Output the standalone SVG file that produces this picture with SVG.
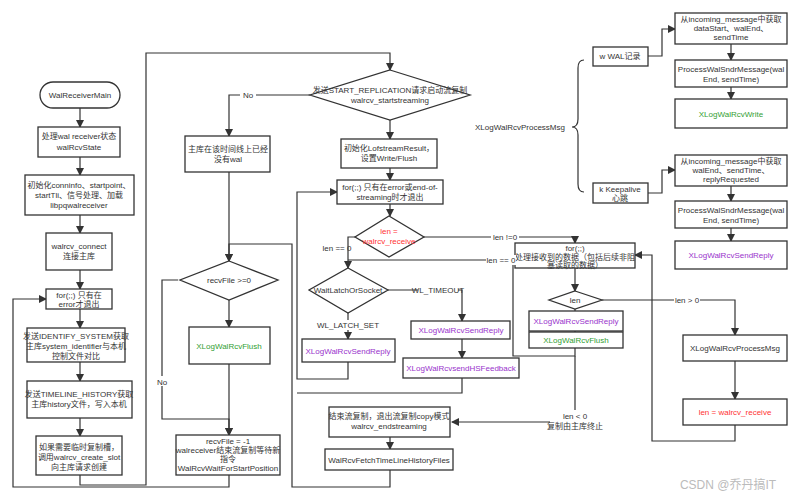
<svg xmlns="http://www.w3.org/2000/svg" width="800" height="500" viewBox="0 0 800 500">
<defs>
<marker id="a" markerWidth="8" markerHeight="8" refX="7" refY="4" orient="auto" markerUnits="userSpaceOnUse"><path d="M0,0 L8,4 L0,8 z" fill="#333"/></marker>
<style>
rect,path.s,polygon{fill:#fff;stroke:#333;stroke-width:1.3}
.c path{fill:none;stroke:#333;stroke-width:1.2}
.c path.r{marker-end:url(#a)}
text{font-family:"Liberation Sans","Noto Sans CJK SC",sans-serif;font-size:8px;fill:#333;text-anchor:middle}
.g{fill:#33a033}.p{fill:#9933cc}.red{fill:#ff3333}
.lb{font-size:8px}
</style>
</defs>
<rect x="0" y="0" width="800" height="500" style="stroke:none"/>
<g class="c">
<path class="r" d="M80,108 V127"/><path class="r" d="M80,157 V175"/><path class="r" d="M80,215 V233"/><path class="r" d="M80,270 V289"/><path class="r" d="M80,309 V328"/><path class="r" d="M80,362 V381"/><path class="r" d="M80,418 V436"/>
<path class="r" d="M80,475 V485 H146 V53 H390 V70"/>
<path class="r" d="M229,475 V487 H13 V299 H46"/>
<path class="r" d="M310,95 H229 V136"/>
<path class="r" d="M229,172 V261"/>
<path class="r" d="M390,449 V470 M390,470 V487 H292 V244 H229 V261"/>
<path class="r" d="M229,300 V327"/><path class="r" d="M229,364 V435"/>
<path class="r" d="M178,280 H162 V419 H229 V435"/>
<path class="r" d="M390,120 V139"/><path class="r" d="M390,168 V180"/><path class="r" d="M390,204 V216"/>
<path class="r" d="M355,237 H348 V268"/>
<path class="r" d="M424,237 H575 V243"/>
<path d="M575,348 V356 H513 V260 H348"/>
<path class="r" d="M388,290 H462 V321"/><path class="r" d="M462,339 V358"/>
<path class="r" d="M348,313 V339"/>
<path class="r" d="M348,362 V379 H297 V192 H337"/>
<path d="M462,378 V393 H297"/>
<path class="r" d="M575,268 V291"/>
<path d="M575,309 V311 M575,331 V332"/>
<path class="r" d="M575,356 V422 H452"/>
<path class="r" d="M390,437 V449"/>
<path class="r" d="M602,300 H735 V335"/><path class="r" d="M735,361 V399"/>
<path class="r" d="M735,425 V441 H652 V255 H635"/>
<path class="r" d="M648,56 H662 V29 H675"/><path class="r" d="M648,193 H662 V170 H675"/>
<path class="r" d="M731,44 V60"/><path class="r" d="M731,87 V99"/><path class="r" d="M731,186 V201"/><path class="r" d="M731,228 V241"/>
<path d="M584,60 Q578,60 578,68 V119 Q578,127 572,127 Q578,127 578,135 V184 Q578,192 584,192"/>
</g>
<g id="n1"><rect x="40" y="82" width="80" height="26" rx="13"/><text x="80" y="98">WalReceiverMain</text></g>
<g id="n2"><rect x="38" y="127" width="82" height="30"/><text x="79" y="139">处理wal receiver状态</text><text x="79" y="150">walRcvState</text></g>
<g id="n3"><rect x="25" y="175" width="109" height="40"/><text x="79" y="188">初始化conninfo、startpoint、</text><text x="79" y="198">startTli、信号处理、加载</text><text x="79" y="208">libpqwalreceiver</text></g>
<g id="n4"><rect x="46" y="233" width="66" height="37"/><text x="79" y="249">walrcv_connect</text><text x="79" y="259">连接主库</text></g>
<g id="n5"><rect x="46" y="289" width="66" height="20"/><text x="79" y="298">for(;;) 只有在</text><text x="79" y="307">error才退出</text></g>
<g id="n6"><rect x="27" y="328" width="98" height="34"/><text x="76" y="339">发送IDENTIFY_SYSTEM获取</text><text x="76" y="349">主库system_identifier与本机</text><text x="76" y="359">控制文件对比</text></g>
<g id="n7"><rect x="27" y="381" width="105" height="37"/><text x="79" y="397">发送TIMELINE_HISTORY获取</text><text x="79" y="407">主库history文件，写入本机</text></g>
<g id="n8"><rect x="36" y="436" width="86" height="39"/><text x="79" y="450">如果需要临时复制槽，</text><text x="79" y="460">调用walrcv_create_slot</text><text x="79" y="470">向主库请求创建</text></g>
<g id="n9"><rect x="185" y="136" width="85" height="36"/><text x="228" y="152">主库在该时间线上已经</text><text x="228" y="162">没有wal</text></g>
<g id="n10"><polygon points="229,261 278,280 229,300 180,280"/><text x="229" y="283">recvFile &gt;=0</text></g>
<g id="n11"><rect x="189" y="327" width="81" height="37"/><text x="229" y="349" class="g">XLogWalRcvFlush</text></g>
<g id="n12"><rect x="176" y="435" width="104" height="40"/><text x="228" y="444">recvFile = -1</text><text x="228" y="453">walreceiver结束流复制等待新</text><text x="228" y="462">指令</text><text x="228" y="471">WalRcvWaitForStartPosition</text></g>
<g id="n13"><polygon points="390,70 470,95 390,120 310,95"/><text x="390" y="93">发送START_REPLICATION请求启动流复制</text><text x="390" y="103">walrcv_startstreaming</text></g>
<g id="n14"><rect x="341" y="139" width="96" height="29"/><text x="389" y="151">初始化LofstreamResult，</text><text x="389" y="161">设置Write/Flush</text></g>
<g id="n15"><rect x="337" y="180" width="106" height="24"/><text x="390" y="190">for(;;) 只有在error或end-of-</text><text x="390" y="200">streaming时才退出</text></g>
<g id="n16"><polygon points="389,216 424,237 389,257 355,237"/><text x="389" y="234" class="red">len =</text><text x="389" y="244" class="red">walrcv_receive</text></g>
<g id="n17"><polygon points="348,268 388,290 348,313 309,290"/><text x="348" y="293">WaitLatchOrSocket</text></g>
<g id="n18"><rect x="302" y="339" width="93" height="23"/><text x="348" y="354" class="p">XLogWalRcvSendReply</text></g>
<g id="n19"><rect x="411" y="321" width="99" height="18"/><text x="461" y="333" class="p">XLogWalRcvSendReply</text></g>
<g id="n20"><rect x="403" y="358" width="116" height="20"/><text x="461" y="371" class="p">XLogWalRcvsendHSFeedback</text></g>
<g id="n21"><rect x="515" y="243" width="120" height="25"/><text x="575" y="251">for(;;)</text><text x="575" y="260">处理接收到的数据（包括后续非阻</text><text x="575" y="268">塞读取的数据）</text></g>
<g id="n22"><polygon points="575,291 602,300 575,309 549,300"/><text x="575" y="303">len</text></g>
<g id="n23"><rect x="529" y="311" width="94" height="20"/><text x="576" y="324" class="p">XLogWalRcvSendReply</text></g>
<g id="n24"><rect x="529" y="332" width="94" height="16"/><text x="576" y="343" class="g">XLogWalRcvFlush</text></g>
<g id="n25"><rect x="683" y="335" width="104" height="26"/><text x="735" y="351">XLogWalRcvProcessMsg</text></g>
<g id="n26"><rect x="683" y="399" width="104" height="26"/><text x="735" y="415" class="red">len = walrcv_receive</text></g>
<g id="n27"><rect x="329" y="407" width="121" height="30"/><text x="389" y="419">结束流复制，退出流复制copy模式</text><text x="389" y="429">walrcv_endstreaming</text></g>
<g id="n28"><rect x="325" y="449" width="128" height="21"/><text x="389" y="463">WalRcvFetchTimeLineHistoryFiles</text></g>
<g id="n29"><text x="520" y="130">XLogWalRcvProcessMsg</text></g>
<g id="n30"><rect x="593" y="47" width="55" height="19"/><text x="620" y="59">w WAL记录</text></g>
<g id="n31"><rect x="593" y="183" width="55" height="20"/><text x="620" y="192">k Keepalive</text><text x="620" y="201">心跳</text></g>
<g id="n32"><rect x="675" y="13" width="112" height="31"/><text x="731" y="22">从incoming_message中获取</text><text x="731" y="31">dataStart、walEnd、</text><text x="731" y="40">sendTime</text></g>
<g id="n33"><rect x="675" y="60" width="112" height="27"/><text x="731" y="72">ProcessWalSndrMessage(wal</text><text x="731" y="82">End, sendTime)</text></g>
<g id="n34"><rect x="675" y="99" width="112" height="29"/><text x="731" y="117" class="g">XLogWalRcvWrite</text></g>
<g id="n35"><rect x="675" y="155" width="112" height="31"/><text x="731" y="164">从incoming_message中获取</text><text x="731" y="173">walEnd、sendTime、</text><text x="731" y="182">replyRequested</text></g>
<g id="n36"><rect x="675" y="201" width="112" height="27"/><text x="731" y="213">ProcessWalSndrMessage(wal</text><text x="731" y="223">End, sendTime)</text></g>
<g id="n37"><rect x="675" y="241" width="112" height="28"/><text x="731" y="258" class="p">XLogWalRcvSendReply</text></g>
<g id="labels">
<rect x="240" y="90" width="16" height="10" style="stroke:none"/><text x="248" y="98">No</text>
<rect x="154" y="376" width="16" height="10" style="stroke:none"/><text x="162" y="385">No</text>
<text x="337" y="251">len == 0</text>
<rect x="491" y="232" width="28" height="10" style="stroke:none"/><text x="505" y="240">len !=0</text>
<rect x="486" y="255" width="30" height="10" style="stroke:none"/><text x="501" y="263">len == 0</text>
<rect x="418" y="285" width="40" height="10" style="stroke:none"/><text x="438" y="293">WL_TIMEOUT</text>
<rect x="318" y="320" width="60" height="10" style="stroke:none"/><text x="348" y="328">WL_LATCH_SET</text>
<rect x="674" y="295" width="26" height="10" style="stroke:none"/><text x="687" y="303">len &gt; 0</text>
<rect x="550" y="410" width="50" height="22" style="stroke:none"/><text x="575" y="419">len &lt; 0</text><text x="575" y="429">复制由主库终止</text>
<text x="728" y="489" style="font-size:12px;fill:#bbb">CSDN @乔丹搞IT</text>
</g>
</svg>
